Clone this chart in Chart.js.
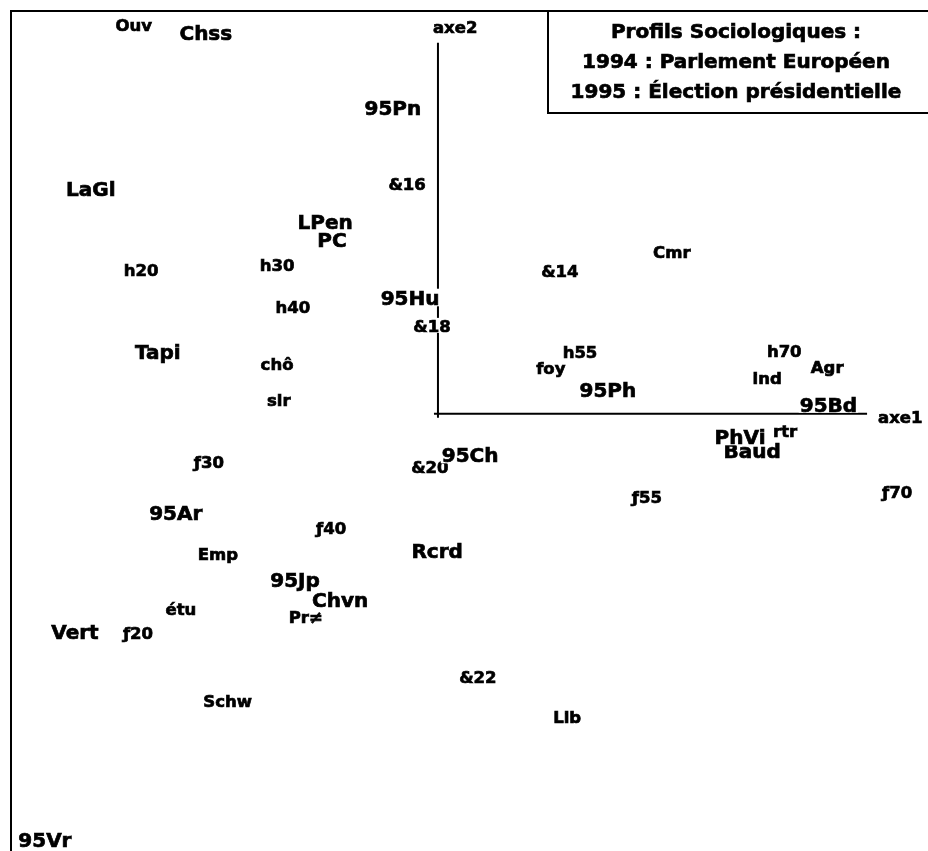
<!DOCTYPE html>
<html><head><meta charset="utf-8">
<style>html,body{margin:0;padding:0;background:#fff}#wrap{width:928px;height:851px}</style>
<script src="https://cdn.jsdelivr.net/npm/chart.js@4/dist/chart.umd.min.js"></script>
</head><body><div id="wrap"><canvas id="c" width="928" height="851"></canvas></div>
<script>
const titleLines = ["Profils Sociologiques :", "1994 : Parlement Européen", "1995 : Élection présidentielle"];
const axisNames = ["axe1", "axe2"];

// Listes 1994 et candidats 1995 (grands libellés)
const listLabels = ["Chss","95Pn","LaGl","LPen","PC","95Hu","Tapi","95Ph","95Bd","Baud","PhVi","95Ch","95Ar","Rcrd","95Jp","Chvn","Vert","95Vr"];
const listX = [-0.541,-0.105,-0.809,-0.263,-0.247,-0.065,-0.653,0.396,0.910,0.732,0.704,0.075,-0.611,-0.002,-0.333,-0.228,-0.846,-0.916];
const listY = [0.888,0.713,0.524,0.448,0.406,0.270,0.145,0.056,0.022,-0.086,-0.054,-0.096,-0.231,-0.319,-0.387,-0.434,-0.508,-0.993];

// Profils sociologiques (petits libellés)
const profileLabels = ["Ouv","&16","h20","h30","h40","&18","chô","slr","&14","Cmr","h55","foy","h70","Agr","ind","rtr","ƒ30","&20","ƒ55","ƒ70","ƒ40","Emp","étu","ƒ20","Pr≠","Schw","&22","Lib"];
const profileX = [-0.709,-0.072,-0.692,-0.375,-0.338,-0.014,-0.375,-0.371,0.284,0.545,0.331,0.263,0.807,0.907,0.767,0.809,-0.534,-0.019,0.487,1.070,-0.249,-0.513,-0.599,-0.699,-0.308,-0.490,0.093,0.301];
const profileY = [0.907,0.536,0.336,0.347,0.249,0.205,0.117,0.033,0.333,0.378,0.145,0.107,0.147,0.110,0.084,-0.040,-0.112,-0.124,-0.193,-0.182,-0.266,-0.326,-0.455,-0.510,-0.474,-0.669,-0.613,-0.706];

const axisExtent = { x: 1.0, y: 0.865 };

const FONT = '"DejaVu Sans", sans-serif';
const BIG = 20, SMALL = 16.5;

function pts(xs, ys) { return xs.map((x, i) => ({ x: x, y: ys[i] })); }

function heavyText(ctx, t, px, py) {
  ctx.fillText(t, px, py);
  ctx.strokeText(t, px, py);
}

const plaque = {
  id: 'plaque',
  beforeDatasetsDraw(chart) {
    const { ctx, chartArea: a, scales: { x, y } } = chart;
    ctx.save();
    ctx.strokeStyle = '#000';
    ctx.lineWidth = 2;
    // cadre (gauche + haut)
    ctx.beginPath();
    ctx.moveTo(a.left, a.bottom + 2);
    ctx.lineTo(a.left, a.top);
    ctx.lineTo(a.right + 2, a.top);
    ctx.stroke();
    // axes
    const x0 = x.getPixelForValue(0), y0 = y.getPixelForValue(0);
    const x1 = x.getPixelForValue(axisExtent.x), y1 = y.getPixelForValue(axisExtent.y);
    ctx.beginPath();
    ctx.moveTo(x0 - 4, y0); ctx.lineTo(x1, y0);
    ctx.moveTo(x0, y0 + 4); ctx.lineTo(x0, y1);
    ctx.stroke();
    // cartouche du titre
    const bw = 380, bh = 102;
    const bx = a.right - bw;
    ctx.beginPath();
    ctx.moveTo(bx, a.top);
    ctx.lineTo(bx, a.top + bh);
    ctx.lineTo(a.right + 2, a.top + bh);
    ctx.stroke();
    // textes
    ctx.fillStyle = '#000';
    ctx.lineWidth = 0.7;
    ctx.textBaseline = 'alphabetic';
    ctx.font = 'bold ' + SMALL + 'px ' + FONT;
    ctx.textAlign = 'left';
    heavyText(ctx, axisNames[0], x1 + 11, y0 + 9);
    heavyText(ctx, axisNames[1], x0 - 5, y1 - 10);
    ctx.font = 'bold ' + BIG + 'px ' + FONT;
    ctx.textAlign = 'center';
    titleLines.forEach((t, i) => heavyText(ctx, t, bx + 188, a.top + 27 + i * 30));
    ctx.restore();
  },
  afterDatasetsDraw(chart) {
    const { ctx, scales: { x, y } } = chart;
    ctx.save();
    ctx.textAlign = 'center';
    ctx.textBaseline = 'alphabetic';
    ctx.strokeStyle = '#000';
    ctx.lineWidth = 0.7;
    chart.data.datasets.forEach(ds => {
      const size = ds.fontSize;
      ctx.font = 'bold ' + size + 'px ' + FONT;
      const cap = 0.729 * size;
      ds.data.forEach((p, i) => {
        const t = ds.names[i];
        const px = x.getPixelForValue(p.x), py = y.getPixelForValue(p.y);
        const w = ctx.measureText(t).width;
        const base = py + cap / 2;
        ctx.fillStyle = '#fff';
        ctx.fillRect(px - w / 2 - 1, base - cap - 2, w + 2, cap + 3);
        ctx.fillStyle = '#000';
        heavyText(ctx, t, px, base);
      });
    });
    ctx.restore();
  }
};

new Chart(document.getElementById('c'), {
  type: 'scatter',
  data: {
    datasets: [
      { label: 'Profils', names: profileLabels, fontSize: SMALL, data: pts(profileX, profileY), pointRadius: 0, pointHoverRadius: 0 },
      { label: 'Listes', names: listLabels, fontSize: BIG, data: pts(listX, listY), pointRadius: 0, pointHoverRadius: 0 }
    ]
  },
  options: {
    responsive: false,
    animation: false,
    devicePixelRatio: 1,
    layout: { padding: { left: 11, top: 11, right: 0, bottom: 0 } },
    scales: {
      x: { type: 'linear', min: -0.995, max: 1.142, display: false },
      y: { type: 'linear', min: -1.019, max: 0.939, display: false }
    },
    plugins: { legend: { display: false }, tooltip: { enabled: false } },
    events: []
  },
  plugins: [plaque]
});
</script>
</body></html>
